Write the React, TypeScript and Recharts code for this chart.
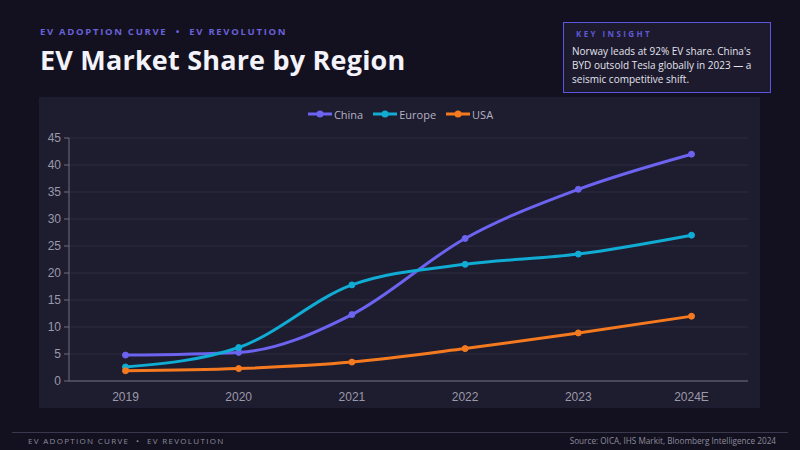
import React from 'react';
import { LineChart, Line, XAxis, YAxis, CartesianGrid, Legend } from 'recharts';

const years = ['2019', '2020', '2021', '2022', '2023', '2024E'];
const china = [4.8, 5.3, 12.3, 26.4, 35.5, 42];
const europe = [2.6, 6.2, 17.8, 21.6, 23.5, 27];
const usa = [1.9, 2.3, 3.5, 6, 8.9, 12];
const yTicks = [0, 5, 10, 15, 20, 25, 30, 35, 40, 45];
const bandTicks = [0, 1, 2, 3, 4, 5, 6];

const SERIES = [
  { key: 'China', color: '#6c63f0' },
  { key: 'Europe', color: '#10acd4' },
  { key: 'USA', color: '#f57a1f' },
];

const data = years.map((year, i) => ({ year, China: china[i], Europe: europe[i], USA: usa[i] }));

const TICK = { fill: '#9b99a8', fontSize: 12, fontFamily: 'Liberation Sans, Arial, sans-serif' };

function LegendRow() {
  return (
    <div style={{ display: 'flex', justifyContent: 'center', gap: 10, height: 14, alignItems: 'center', paddingLeft: 14 }}>
      {SERIES.map((s) => (
        <div key={s.key} style={{ display: 'flex', alignItems: 'center', fontSize: 11, color: '#b4b2c2', fontFamily: 'Open Sans, sans-serif' }}>
          <svg width={24} height={10} style={{ marginRight: 2 }}>
            <line x1={0} y1={5} x2={24} y2={5} stroke={s.color} strokeWidth={3} />
            <circle cx={12} cy={5} r={3.5} fill={s.color} />
          </svg>
          {s.key}
        </div>
      ))}
    </div>
  );
}

export default function App() {
  return (
    <div style={{ position: 'fixed', left: 0, top: 0, width: 800, height: 450, background: '#13111f', overflow: 'hidden', fontFamily: 'Open Sans, sans-serif' }}>
      <div style={{ position: 'absolute', left: 40, top: 25, fontSize: 9.5, fontWeight: 700, letterSpacing: 1.7, color: '#6a60d8', whiteSpace: 'nowrap' }}>
        EV ADOPTION CURVE &nbsp;•&nbsp; EV REVOLUTION
      </div>
      <div style={{ position: 'absolute', left: 40, top: 41, fontSize: 27, fontWeight: 700, color: '#f4f3fb', letterSpacing: 0.2, whiteSpace: 'nowrap' }}>
        EV Market Share by Region
      </div>

      <div style={{ position: 'absolute', left: 563, top: 22, width: 206, height: 69, border: '1.5px solid #5b56e0', background: '#1c1a2c' }}>
        <div style={{ position: 'absolute', left: 12, top: 5, fontSize: 8, fontWeight: 700, letterSpacing: 2.4, color: '#5f58d8', whiteSpace: 'nowrap' }}>KEY INSIGHT</div>
        <div style={{ position: 'absolute', left: 8, top: 21, width: 188, fontSize: 10, lineHeight: '14px', color: '#e4e3ee' }}>
          Norway leads at 92% EV share. China's BYD outsold Tesla globally in 2023 — a seismic competitive shift.
        </div>
      </div>

      <div style={{ position: 'absolute', left: 39, top: 97, width: 721, height: 311, background: '#1e1c2f' }}>
        <LineChart width={721} height={311} data={data} margin={{ top: 10, right: 12, bottom: 0, left: 0 }}>
          <CartesianGrid vertical={false} stroke="#2d2b40" />
          <Legend verticalAlign="top" height={31} wrapperStyle={{ top: 10 }} content={() => <LegendRow />} />
          <XAxis
            type="number"
            dataKey="none"
            domain={[0, 6]}
            ticks={bandTicks}
            tick={false}
            height={5}
            stroke="#6e6c80"
            tickSize={5}
          />
          <XAxis
            xAxisId="cat"
            dataKey="year"
            height={22}
            axisLine={false}
            tickLine={false}
            tick={TICK}
            tickMargin={0}
            padding={{ left: 56.5, right: 56.5 }}
          />
          <YAxis width={30} domain={[0, 45]} ticks={yTicks} tick={TICK} stroke="#6e6c80" tickSize={5} tickMargin={3} />
          {SERIES.map((s) => (
            <Line
              key={s.key}
              xAxisId="cat"
              type="monotone"
              dataKey={s.key}
              stroke={s.color}
              strokeWidth={3}
              dot={{ r: 3, fill: s.color, stroke: s.color, strokeWidth: 1 }}
              isAnimationActive={false}
            />
          ))}
        </LineChart>
      </div>

      <div style={{ position: 'absolute', left: 12, top: 432, width: 776, height: 1, background: '#3a384c' }} />
      <div style={{ position: 'absolute', left: 28, top: 435, fontSize: 8, letterSpacing: 1.3, color: '#8d8b9c', whiteSpace: 'nowrap' }}>
        EV ADOPTION CURVE &nbsp;•&nbsp; EV REVOLUTION
      </div>
      <div style={{ position: 'absolute', right: 24, top: 435, fontSize: 8.2, color: '#8d8b9c', whiteSpace: 'nowrap' }}>
        Source: OICA, IHS Markit, Bloomberg Intelligence 2024
      </div>
    </div>
  );
}
